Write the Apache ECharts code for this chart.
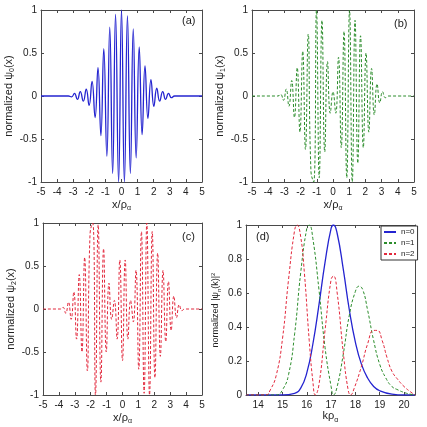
<!DOCTYPE html>
<html>
<head>
<meta charset="utf-8">
<script src="https://cdn.jsdelivr.net/npm/echarts@6/dist/echarts.min.js"></script>
<style>
  html, body { margin: 0; padding: 0; background: #fff; }
  #chart { width: 427px; height: 427px; }
</style>
</head>
<body>
<div id="chart"></div>
<script>
// (a) psi0 - extrema
var psi0X = [-5, -3.3, -3.1, -2.92, -2.74, -2.56, -2.37, -2.19, -2.01, -1.83, -1.64, -1.46, -1.28, -1.1, -0.91, -0.73, -0.55, -0.37, -0.18,
    0, 0.18, 0.37, 0.55, 0.73, 0.91, 1.1, 1.28, 1.46, 1.64, 1.83, 2.01, 2.19, 2.37, 2.56, 2.74, 2.92, 3.1, 3.3, 5];
var psi0Y = [0, 0, -0.01, 0.03, -0.04, 0.05, -0.06, 0.08, -0.11, 0.17, -0.25, 0.33, -0.46, 0.55, -0.7, 0.8, -0.9, 0.95, -1.0,
    1.0, -1.0, 0.93, -0.9, 0.78, -0.72, 0.57, -0.45, 0.35, -0.26, 0.19, -0.12, 0.09, -0.06, 0.05, -0.04, 0.03, -0.02, 0, 0];

// (b) psi1
var psi1X = [-5, -3.4, -3.23, -3.06, -2.89, -2.72, -2.55, -2.38, -2.21, -2.04, -1.87, -1.7, -1.53, -1.36, -1.19, -1.02, -0.85, -0.68, -0.51, -0.34, -0.17,
    0, 0.17, 0.34, 0.51, 0.68, 0.85, 1.02, 1.19, 1.36, 1.53, 1.7, 1.87, 2.04, 2.21, 2.38, 2.55, 2.72, 2.89, 3.06, 3.23, 3.4, 5];
var psi1Y = [0, 0, 0.02, -0.05, 0.08, -0.12, 0.18, -0.25, 0.33, -0.42, 0.52, -0.62, 0.72, -0.88, -1.0, 1.0, -0.95, 0.88, -0.65, 0.4, -0.2,
    0.05, -0.2, 0.45, -0.6, 0.75, -0.95, 1.0, -1.0, 0.88, -0.78, 0.7, -0.6, 0.5, -0.42, 0.32, -0.22, 0.14, -0.08, 0.05, -0.02, 0, 0];

// (c) psi2
var psi2X = [-5, -3.9, -3.74, -3.57, -3.4, -3.23, -3.06, -2.89, -2.72, -2.55, -2.38, -2.21, -2.04, -1.87, -1.7, -1.53, -1.36, -1.19, -1.02, -0.85, -0.68, -0.51, -0.34, -0.17,
    0, 0.17, 0.34, 0.51, 0.68, 0.85, 1.02, 1.19, 1.36, 1.53, 1.7, 1.87, 2.04, 2.21, 2.38, 2.55, 2.72, 2.89, 3.06, 3.23, 3.4, 3.57, 3.74, 3.9, 5];
var psi2Y = [0, 0, 0.02, -0.05, 0.08, -0.12, 0.2, -0.35, 0.4, -0.5, 0.6, -0.72, 0.88, 1.0, -1.0, 0.98, -0.85, 0.7, -0.5, 0.3, -0.12, 0.1, -0.35, 0.57,
    -0.6, 0.57, -0.35, 0.1, -0.15, 0.45, -0.7, 0.9, -0.98, 1.0, -1.0, 0.9, -0.8, 0.65, -0.55, 0.45, -0.38, 0.32, -0.25, 0.15, -0.1, 0.05, -0.02, 0, 0];

// (d) normalized |psi_n(k)|^2
var n0K = [13.5, 15, 15.5, 15.75, 16, 16.25, 16.5, 16.75, 17, 17.1, 17.25, 17.5, 17.75, 18, 18.25, 18.5, 18.75, 19, 19.5, 20, 20.45];
var n0V = [0, 0, 0.01, 0.04, 0.13, 0.3, 0.53, 0.78, 0.98, 1.0, 0.95, 0.74, 0.5, 0.31, 0.18, 0.1, 0.05, 0.025, 0.005, 0, 0];
var n1K = [13.5, 14.75, 15, 15.25, 15.5, 15.75, 16, 16.1, 16.25, 16.5, 16.75, 17, 17.1, 17.25, 17.5, 17.75, 18, 18.15, 18.3, 18.5, 18.75, 19, 19.25, 19.5, 19.75, 20, 20.25, 20.45];
var n1V = [0, 0, 0.03, 0.12, 0.36, 0.72, 0.98, 1.0, 0.92, 0.62, 0.28, 0.05, 0, 0.05, 0.24, 0.47, 0.61, 0.64, 0.62, 0.5, 0.32, 0.18, 0.1, 0.05, 0.03, 0.015, 0.005, 0];
var n2K = [13.5, 14.3, 14.5, 14.75, 15, 15.25, 15.5, 15.6, 15.75, 15.9, 16.1, 16.25, 16.35, 16.5, 16.75, 17, 17.1, 17.25, 17.5, 17.7, 17.8, 17.95, 18.25, 18.5, 18.75, 18.9, 19.1, 19.3, 19.5, 19.75, 20, 20.25, 20.45];
var n2V = [0, 0, 0.03, 0.12, 0.33, 0.68, 0.97, 1.0, 0.93, 0.72, 0.32, 0.08, 0, 0.06, 0.38, 0.68, 0.7, 0.6, 0.25, 0.03, 0, 0.04, 0.17, 0.3, 0.38, 0.38, 0.32, 0.22, 0.14, 0.09, 0.05, 0.02, 0];
var kTicks = [14, 15, 16, 17, 18, 19, 20];
var legendNames = ['n=0', 'n=1', 'n=2'];

var BLUE = '#2424d0', GREEN = '#2b8c2b', RED = '#e2283c';
var FONT = 'Liberation Sans';

function pairs(xs, ys) {
    var out = [];
    for (var i = 0; i < xs.length; i++) out.push([xs[i], ys[i]]);
    return out;
}

var grids = [
    { left: 41, top: 10, width: 161, height: 172 },
    { left: 252, top: 10, width: 162, height: 172 },
    { left: 43, top: 223, width: 159, height: 172 },
    { left: 246, top: 225, width: 169, height: 170 }
];

var xAxes = [], yAxes = [];
var lineCol = '#4a4a4a';
var subRich = {
    t: { fontSize: 11, fontFamily: FONT, color: '#222', lineHeight: 14 },
    s: { fontSize: 7, fontFamily: FONT, color: '#222', lineHeight: 7, verticalAlign: 'bottom' },
    p: { fontSize: 7, fontFamily: FONT, color: '#222', lineHeight: 7, verticalAlign: 'top' }
};

// one bottom/left labelled axis pair + top/right box axes per panel
function addAxes(gi, x, y) {
    var base = { gridIndex: gi, type: 'value', splitLine: { show: false },
        axisLine: { show: true, onZero: false, lineStyle: { color: lineCol, width: 1 } },
        axisTick: { show: true, inside: true, length: 3, lineStyle: { color: lineCol } } };
    var xb = Object.assign({}, base, { position: 'bottom', min: x.min, max: x.max,
        name: x.name, nameLocation: 'middle', nameGap: x.gap, nameTextStyle: { rich: subRich },
        axisLabel: { fontSize: 10, fontFamily: FONT, color: '#222', margin: 5 } });
    var xt = Object.assign({}, base, { position: 'top', min: x.min, max: x.max, axisLabel: { show: false } });
    if (x.interval) { xb.interval = x.interval; xt.interval = x.interval; }
    if (x.ticks) {
        xb.axisLabel.customValues = x.ticks;
        xb.axisTick = Object.assign({}, base.axisTick, { customValues: x.ticks });
        xt.axisTick = Object.assign({}, base.axisTick, { customValues: x.ticks });
    }
    var yl = Object.assign({}, base, { position: 'left', min: y.min, max: y.max, interval: y.interval,
        name: y.name, nameLocation: 'middle', nameGap: y.gap, nameTextStyle: { rich: y.rich || subRich },
        axisLabel: { fontSize: 10, fontFamily: FONT, color: '#222', margin: 4 } });
    var yr = Object.assign({}, base, { position: 'right', min: y.min, max: y.max, interval: y.interval, axisLabel: { show: false } });
    xAxes.push(xb, xt);
    yAxes.push(yl, yr);
}

var xName = '{t|x/ρ}{s|α}';
addAxes(0, { min: -5, max: 5, interval: 1, name: xName, gap: 16 },
    { min: -1, max: 1, interval: 0.5, name: '{t|normalized ψ}{s|0}{t|(x)}', gap: 25 });
addAxes(1, { min: -5, max: 5, interval: 1, name: xName, gap: 16 },
    { min: -1, max: 1, interval: 0.5, name: '{t|normalized ψ}{s|1}{t|(x)}', gap: 25 });
addAxes(2, { min: -5, max: 5, interval: 1, name: xName, gap: 16 },
    { min: -1, max: 1, interval: 0.5, name: '{t|normalized ψ}{s|2}{t|(x)}', gap: 25 });
var smallRich = {
    t: { fontSize: 9, fontFamily: FONT, color: '#222', lineHeight: 12 },
    s: { fontSize: 6, fontFamily: FONT, color: '#222', lineHeight: 6, verticalAlign: 'bottom' },
    p: { fontSize: 6, fontFamily: FONT, color: '#222', lineHeight: 6, verticalAlign: 'top' }
};
addAxes(3, { min: 13.5, max: 20.45, ticks: kTicks, name: '{t|kρ}{s|α}', gap: 14 },
    { min: 0, max: 1, interval: 0.2, name: '{t|normalized |ψ}{s|n}{t|(k)|}{p|2}', gap: 24, rich: smallRich });

function line(name, gi, data, color, dashed, width) {
    return {
        name: name, type: 'line', xAxisIndex: gi * 2, yAxisIndex: gi * 2,
        data: data, showSymbol: false, symbol: 'none', smooth: 0.5, animation: false,
        lineStyle: { color: color, width: width || 1, type: dashed ? [3, 2] : 'solid' },
        itemStyle: { color: color }
    };
}

var series = [
    line('a', 0, pairs(psi0X, psi0Y), BLUE, false, 1.3),
    line('b', 1, pairs(psi1X, psi1Y), GREEN, true, 1),
    line('c', 2, pairs(psi2X, psi2Y), RED, true, 1),
    line(legendNames[0], 3, pairs(n0K, n0V), BLUE, false, 1.3),
    line(legendNames[1], 3, pairs(n1K, n1V), GREEN, true, 1),
    line(legendNames[2], 3, pairs(n2K, n2V), RED, true, 1)
];

function panelLabel(txt, x, y) {
    return { type: 'text', left: x, top: y, style: { text: txt, fontSize: 11, fontFamily: FONT, fill: '#222' } };
}

var chart = echarts.init(document.getElementById('chart'), null, { renderer: 'canvas' });
chart.setOption({
    backgroundColor: '#fff',
    animation: false,
    grid: grids,
    xAxis: xAxes,
    yAxis: yAxes,
    legend: {
        data: legendNames, orient: 'vertical', left: 381, top: 226,
        itemWidth: 12, itemHeight: 6, itemGap: 3, padding: [2, 3, 2, 2],
        borderColor: '#333', borderWidth: 1, backgroundColor: '#fff',
        itemStyle: { opacity: 0, borderWidth: 0 },
        textStyle: { fontSize: 8, fontFamily: FONT, color: '#222' }
    },
    graphic: [
        panelLabel('(a)', 182, 15),
        panelLabel('(b)', 394, 18),
        panelLabel('(c)', 182, 231),
        panelLabel('(d)', 256, 231)
    ],
    series: series
});
</script>
</body>
</html>
